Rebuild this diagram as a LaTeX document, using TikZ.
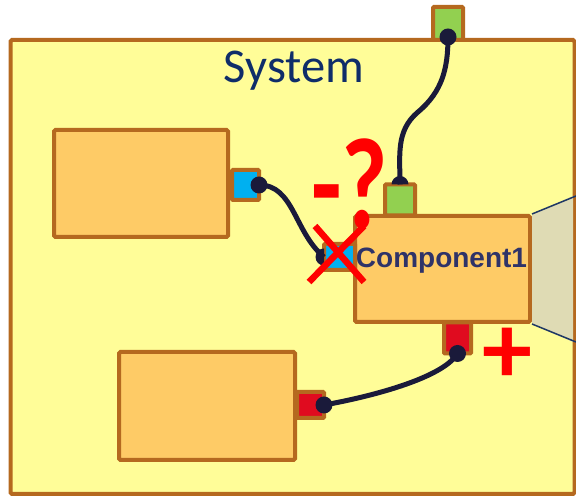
\documentclass[tikz,border=0pt]{standalone}
\usepackage{fontspec}
\setmainfont{Liberation Sans}
\newfontfamily\calibri{Carlito}
\usetikzlibrary{calc}
\definecolor{sysfill}{HTML}{FFFD98}
\definecolor{brownline}{HTML}{B5691F}
\definecolor{compfill}{HTML}{FECB66}
\definecolor{portblue}{HTML}{00B0F0}
\definecolor{portgreen}{HTML}{92D050}
\definecolor{portred}{HTML}{E00B1F}
\definecolor{wirecol}{HTML}{1A1A3A}
\definecolor{navytext}{HTML}{0F2D69}
\definecolor{comptext}{HTML}{2F3368}
\definecolor{viewfill}{HTML}{DFDBB4}
\definecolor{viewline}{HTML}{1F3864}
\definecolor{markred}{HTML}{FF0000}

\begin{document}
\begin{tikzpicture}[x=1pt, y=1pt,
		box/.style={draw=brownline, line width=4pt, fill=compfill, rounded corners=1.5pt, inner sep=0pt},
		port/.style={draw=brownline, line width=4pt, rounded corners=1pt, inner sep=0pt, outer sep=0pt},
		wire/.style={draw=wirecol, line width=5pt},
		pin/.style={fill=wirecol},
		cross/.style={draw=markred, line width=6.5pt},
		signmark/.style={font=\calibri\bfseries\fontsize{100}{100}\selectfont, text=markred, inner sep=0pt}]
	\useasboundingbox (0,0) rectangle (576,497);
	% system and its parts
	\node[draw=brownline, line width=4pt, fill=sysfill, rounded corners=1.5pt, minimum width=564pt, minimum height=454pt] (sys) at (292.5,230) {};
	\node[font=\calibri\fontsize{48.5}{50}\selectfont, text=navytext, anchor=base, inner sep=0pt] (systitle) at (294,414) {System};
	\node[box, minimum width=174pt, minimum height=107pt] (compa) at (141,313.5) {};
	\node[box, minimum width=176pt, minimum height=108pt] (compb) at (207,91) {};
	\node[box, minimum width=175pt, minimum height=106pt] (comp1) at (442.5,228) {};
	\fill[viewfill] (comp1.north east) -- (573,301) -- (573,155) -- (comp1.south east) -- cycle;
	\draw[viewline, line width=1.5pt] (comp1.north east) -- (576,301);
	\draw[viewline, line width=1.5pt] (comp1.south east) -- (576,155);
	\node[font=\bfseries\fontsize{28}{30}\selectfont, text=comptext, anchor=base] (c1name) at (441.5,229) {Component1};
	% ports
	\node[port, fill=portgreen, minimum width=30pt, minimum height=33pt] (sysport) at (448,473.5) {};
	\node[port, fill=portblue, minimum width=27pt, minimum height=30pt] (aout) at (245.5,312) {};
	\node[port, fill=portred, minimum width=27pt, minimum height=26pt] (bout) at (310.5,92) {};
	\node[port, fill=portgreen, minimum width=30pt, minimum height=31pt] (c1top) at (400,297) {};
	\node[port, fill=portblue, minimum width=31pt, minimum height=26pt] (c1in) at (339.5,240) {};
	\node[port, fill=portred, minimum width=27pt, minimum height=31pt] (c1out) at (457.5,159) {};
	% wires
	\draw[wire] ([yshift=3pt]sysport.south) to[out=-90, in=40] ++(-30,-75) to[out=220, in=90] (c1top.north);
	\draw[wire] (aout.east) .. controls +(35,0) and +(-30,25) .. (c1in.west);
	\draw[wire] (bout.east) .. controls +(45,8) and +(-15,-25) .. (c1out.south);
	\fill[pin] ([yshift=3pt]sysport.south) circle[radius=8.5];
	\fill[pin] (aout.east) circle[radius=8.5];
	\fill[pin] (bout.east) circle[radius=8.5];
	\fill[pin] (c1out.south) circle[radius=8.5];
	\fill[pin] (c1top.north) ++(-8.5,0) arc[start angle=180, end angle=0, radius=8.5] -- cycle;
	\fill[pin] (c1in.west) ++(0,8.5) arc[start angle=90, end angle=270, radius=8.5] -- cycle;
	% marks
	\draw[cross] (c1in.center) ++(-24.5,31) -- ++(49,-56);
	\draw[cross] (c1in.center) ++(24.5,31) -- ++(-55,-56);
	\node[signmark, anchor=base west, yscale=1.3, transform shape] (unknown) at (311,268) {-?};
	\node[signmark, anchor=base] (plus) at (507.5,113) {+};
\end{tikzpicture}
\end{document}
